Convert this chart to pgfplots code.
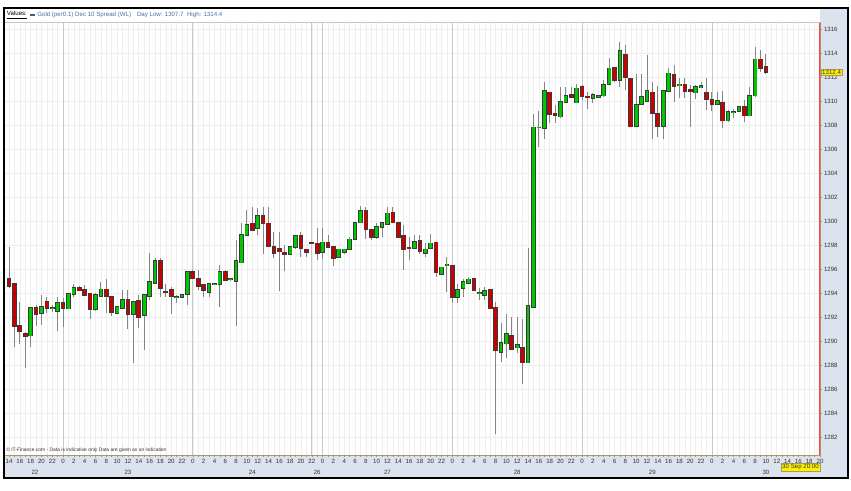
\documentclass[border=0pt]{standalone}
\usepackage{fontspec}
\setmainfont{Liberation Sans}
\usepackage{pgfplots}
\usepackage{pgfplotstable}
\pgfplotsset{compat=1.18}

\definecolor{stripblue}{HTML}{DCE3EE}
\definecolor{gridgray}{HTML}{EEEEEE}
\definecolor{daygray}{HTML}{C8C8C8}
\definecolor{axisbrown}{HTML}{A89868}
\definecolor{labelgray}{HTML}{333333}
\definecolor{candlegreen}{HTML}{00C800}
\definecolor{candlered}{HTML}{C80000}
\definecolor{bodyedge}{HTML}{3A3A3A}
\definecolor{wickgray}{HTML}{858585}
\definecolor{tagyellow}{HTML}{FFF200}
\definecolor{headblue}{HTML}{4A6FA5}

% hourly candles, x = hour slot (0 = 22 Sep 14:00)
\pgfplotstableread{
x o h l c
0 1295.2 1297.8 1294.4 1294.6
1 1294.8 1294.85 1289.5 1291.25
2 1291.25 1293.25 1289.75 1290.8
3 1290.6 1290.75 1287.8 1290.4
4 1290.45 1292.85 1289.5 1292.8
5 1292.75 1292.97 1291.25 1292.25
6 1292.36 1293.83 1291.33 1292.86
7 1293.25 1293.7 1292.36 1292.75
8 1292.7 1293.0 1292.45 1292.75
9 1292.53 1293.7 1290.86 1293.22
10 1293.17 1293.6 1291.14 1292.72
11 1292.72 1294.0 1292.7 1293.97
12 1293.92 1294.78 1293.64 1294.45
13 1294.45 1294.58 1294.17 1294.2
14 1294.3 1294.67 1293.75 1293.83
15 1293.97 1294.0 1291.83 1292.64
16 1292.64 1294.0 1292.53 1293.83
17 1293.75 1294.89 1293.75 1294.3
18 1294.3 1295.14 1292.36 1293.75
19 1293.7 1293.7 1292.08 1292.44
20 1292.36 1292.9 1292.3 1292.86
21 1292.72 1294.25 1292.7 1293.42
22 1293.42 1294.25 1290.97 1292.25
23 1292.25 1293.3 1288.17 1293.28
24 1293.33 1293.83 1291.1 1291.94
25 1292.17 1293.9 1289.25 1293.83
26 1293.75 1297.36 1293.4 1294.94
27 1294.81 1296.9 1294.8 1296.67
28 1296.67 1296.89 1293.69 1294.39
29 1294.1 1294.8 1293.7 1294.05
30 1294.25 1294.47 1292.25 1293.75
31 1293.64 1293.83 1293.14 1293.66
32 1293.64 1293.85 1293.6 1293.83
33 1293.92 1295.86 1293.0 1295.78
34 1295.78 1295.9 1295.2 1295.22
35 1295.22 1295.92 1294.25 1294.61
36 1294.67 1294.67 1293.7 1294.25
37 1294.11 1294.8 1293.7 1294.75
38 1294.78 1294.85 1294.7 1294.8
39 1294.75 1296.33 1292.8 1295.78
40 1295.78 1295.9 1295.1 1295.08
41 1295.14 1295.2 1295.05 1295.16
42 1295.0 1298.42 1291.28 1296.67
43 1296.53 1299.8 1296.5 1298.83
44 1298.83 1300.92 1298.8 1299.67
45 1299.81 1301.2 1299.2 1299.25
46 1299.39 1301.06 1298.83 1300.44
47 1300.44 1301.2 1297.22 1299.8
48 1299.8 1301.2 1297.9 1297.92
49 1297.86 1299.1 1296.89 1297.36
50 1297.67 1299.06 1294.2 1297.44
51 1297.39 1298.0 1295.86 1297.22
52 1297.22 1297.9 1297.17 1297.86
53 1297.86 1298.86 1297.64 1298.78
54 1298.75 1299.11 1296.97 1297.72
55 1297.64 1297.64 1296.97 1297.44
56 1298.2 1298.25 1298.15 1298.18
57 1298.14 1299.39 1296.75 1297.31
58 1297.44 1299.4 1296.83 1298.22
59 1298.22 1298.83 1297.86 1297.86
60 1297.86 1297.9 1296.28 1296.89
61 1296.97 1297.7 1296.9 1297.64
62 1297.44 1297.7 1297.3 1297.64
63 1297.64 1298.64 1297.58 1298.47
64 1298.47 1299.9 1298.4 1299.86
65 1299.86 1301.25 1299.86 1300.83
66 1300.83 1301.14 1298.47 1299.33
67 1299.25 1299.33 1298.4 1298.64
68 1298.69 1299.86 1298.47 1299.53
69 1299.53 1299.9 1298.7 1299.86
70 1299.75 1301.2 1299.75 1300.64
71 1300.72 1301.14 1299.8 1299.86
72 1299.86 1299.95 1298.6 1298.64
73 1298.75 1299.67 1295.97 1297.64
74 1297.8 1298.64 1296.75 1297.75
75 1297.78 1298.83 1297.72 1298.25
76 1298.33 1298.83 1297.25 1297.44
77 1297.36 1298.2 1296.97 1297.64
78 1297.72 1298.9 1297.7 1298.14
79 1298.22 1298.25 1295.36 1295.7
80 1295.58 1296.2 1295.5 1296.14
81 1296.33 1296.97 1294.11 1296.4
82 1296.28 1296.3 1293.2 1293.64
83 1293.64 1294.75 1293.2 1294.3
84 1294.44 1295.2 1293.64 1294.94
85 1294.8 1295.36 1294.75 1295.14
86 1295.22 1295.3 1294.2 1294.2
87 1293.97 1294.4 1293.4 1294.0
88 1293.83 1294.53 1293.4 1294.17
89 1294.25 1294.3 1292.7 1292.72
90 1292.8 1293.22 1282.25 1289.25
91 1289.11 1291.47 1288.28 1289.86
92 1289.8 1292.3 1288.6 1290.64
93 1290.47 1291.97 1289.3 1289.36
94 1289.45 1291.97 1288.97 1289.67
95 1289.47 1291.8 1286.42 1288.22
96 1288.2 1297.72 1288.2 1292.94
97 1292.8 1308.97 1292.8 1307.8
98 1307.78 1309.2 1306.14 1307.8
99 1307.72 1311.56 1306.83 1310.83
100 1310.72 1310.75 1308.14 1308.92
101 1308.97 1309.67 1308.14 1308.83
102 1308.69 1311.19 1308.6 1309.94
103 1309.94 1311.19 1309.9 1310.44
104 1310.5 1311.19 1310.33 1310.33
105 1309.86 1311.47 1309.86 1311.06
106 1311.17 1311.33 1310.08 1310.44
107 1310.39 1310.78 1309.33 1310.28
108 1310.22 1310.64 1309.8 1310.5
109 1310.33 1310.5 1310.3 1310.44
110 1310.44 1311.75 1310.36 1311.33
111 1311.44 1313.56 1311.44 1312.72
112 1312.75 1312.78 1311.61 1311.75
113 1311.75 1314.89 1311.19 1314.17
114 1313.83 1314.67 1310.92 1311.94
115 1311.83 1311.83 1307.86 1307.86
116 1307.94 1312.22 1307.86 1309.67
117 1309.75 1312.22 1309.67 1310.36
118 1310.0 1313.83 1309.94 1310.83
119 1310.72 1311.61 1306.83 1308.97
120 1308.97 1311.28 1307.03 1307.94
121 1307.94 1310.83 1306.83 1310.83
122 1310.83 1312.78 1310.78 1312.31
123 1312.22 1313.0 1309.94 1311.25
124 1311.28 1311.89 1310.22 1311.39
125 1311.39 1311.89 1310.22 1310.86
126 1310.92 1311.33 1307.86 1310.83
127 1310.72 1311.33 1310.22 1311.19
128 1311.17 1311.56 1311.11 1311.25
129 1310.67 1311.89 1309.25 1310.17
130 1310.08 1310.78 1309.17 1309.72
131 1309.75 1310.78 1309.67 1310.0
132 1309.86 1310.83 1307.72 1308.36
133 1308.36 1309.25 1308.22 1309.11
134 1309.06 1309.33 1308.61 1309.08
135 1309.17 1309.61 1309.11 1309.5
136 1309.5 1310.08 1308.22 1308.78
137 1308.78 1311.19 1308.78 1310.44
138 1310.44 1314.47 1310.36 1313.47
139 1313.47 1314.25 1312.44 1312.72
140 1312.86 1313.89 1312.22 1312.44
}\candles

\pgfplotsset{
    candle part/.style 2 args={draw=none, mark=none, forget plot,
        error bars/.cd, y dir=both, y explicit, error mark=none,
        error bar style={draw=#1, line width=#2}},
}

\begin{document}
\begin{tikzpicture}
\useasboundingbox (0,0) rectangle (638.25pt,367.5pt);
\fill[white] (0,0) rectangle (638.25pt,367.5pt);
\fill[stripblue] (3pt,9pt) rectangle (636pt,26.25pt);
\fill[stripblue] (615pt,9pt) rectangle (636pt,361.5pt);

\begin{axis}[
    at={(3.75pt,26.25pt)}, anchor=south west,
    scale only axis, width=611.25pt, height=324.75pt,
    xmin=-0.74, xmax=150, ymin=1280.5, ymax=1316.58,
    axis x line*=bottom, axis y line*=right,
    axis line style={draw=axisbrown, line width=0.6pt, -},
    xtick={0,2,...,150},
    xticklabels={14,16,18,20,22,
        0,2,4,6,8,10,12,14,16,18,20,22,
        0,2,4,6,8,10,12,14,16,18,20,22,
        0,2,4,6,8,10,12,14,16,18,20,22,
        0,2,4,6,8,10,12,14,16,18,20,22,
        0,2,4,6,8,10,12,14,16,18,20,22,
        0,2,4,6,8,10,12,14,16,18,20},
    minor x tick num=1,
    ytick={1282,1284,...,1316},
    minor y tick num=1,
    tick align=outside,
    major tick length=1.8pt, minor tick length=1.2pt,
    tick style={axisbrown, line width=0.4pt},
    xmajorgrids, xminorgrids, ymajorgrids,
    major grid style={gridgray, line width=0.4pt},
    minor grid style={gridgray, line width=0.4pt},
    tick label style={font=\fontsize{4.6}{5}\selectfont, text=labelgray, inner sep=1pt},
    yticklabel style={/pgf/number format/.cd, assume math mode=true, 1000 sep={}},
    clip mode=individual,
]
% day separators
\pgfplotsinvokeforeach{10,34,56,58,82,106,130}{
    \draw[daygray, line width=0.5pt] (axis cs:#1,1280.5) -- (axis cs:#1,1316.58);
}

% wicks
\addplot[candle part={wickgray}{0.7pt}]
    table[x=x, y expr={(\thisrow{h}+\thisrow{l})/2},
          y error expr={(\thisrow{h}-\thisrow{l})/2}] {\candles};
% body outline
\addplot[candle part={bodyedge}{3.5pt}]
    table[x=x, y expr={(\thisrow{o}+\thisrow{c})/2},
          y error expr={abs(\thisrow{c}-\thisrow{o})/2+0.06}] {\candles};
% rising bodies
\addplot[candle part={candlegreen}{2.1pt}]
    table[x=x, y expr={(\thisrow{o}+\thisrow{c})/2},
          y error expr={(\thisrow{c}>=\thisrow{o}) ? abs(\thisrow{c}-\thisrow{o})/2 : 0}] {\candles};
% falling bodies
\addplot[candle part={candlered}{2.1pt}]
    table[x=x, y expr={(\thisrow{o}+\thisrow{c})/2},
          y error expr={(\thisrow{c}<\thisrow{o}) ? abs(\thisrow{c}-\thisrow{o})/2 : 0}] {\candles};

% now line
\draw[red!75, line width=0.6pt] (axis cs:149.85,1280.5) -- (axis cs:149.85,1316.58);

% day labels
\node[font=\fontsize{4.6}{5}\selectfont, text=labelgray, inner sep=0pt] at (axis cs:4.8,1280.5) [yshift=-13.2pt] {22};
\node[font=\fontsize{4.6}{5}\selectfont, text=labelgray, inner sep=0pt] at (axis cs:22,1280.5) [yshift=-13.2pt] {23};
\node[font=\fontsize{4.6}{5}\selectfont, text=labelgray, inner sep=0pt] at (axis cs:45,1280.5) [yshift=-13.2pt] {24};
\node[font=\fontsize{4.6}{5}\selectfont, text=labelgray, inner sep=0pt] at (axis cs:57,1280.5) [yshift=-13.2pt] {26};
\node[font=\fontsize{4.6}{5}\selectfont, text=labelgray, inner sep=0pt] at (axis cs:70,1280.5) [yshift=-13.2pt] {27};
\node[font=\fontsize{4.6}{5}\selectfont, text=labelgray, inner sep=0pt] at (axis cs:94,1280.5) [yshift=-13.2pt] {28};
\node[font=\fontsize{4.6}{5}\selectfont, text=labelgray, inner sep=0pt] at (axis cs:119,1280.5) [yshift=-13.2pt] {29};
\node[font=\fontsize{4.6}{5}\selectfont, text=labelgray, inner sep=0pt] at (axis cs:140,1280.5) [yshift=-13.2pt] {30};

\node[anchor=south west, font=\fontsize{3.7}{4}\selectfont, text=labelgray, inner sep=0pt]
    at (axis cs:-0.55,1280.5) [yshift=1.6pt]
    {© IT-Finance.com - Data is indicative only Data are given as an indication};

\node[anchor=west, fill=tagyellow, draw=axisbrown, line width=0.3pt, inner sep=0.7pt,
      font=\fontsize{4.6}{5}\selectfont, text=labelgray]
    at (axis cs:150,1312.4) [xshift=0.8pt] {1312.4};
\node[anchor=north east, fill=tagyellow, draw=axisbrown, line width=0.3pt, inner sep=0.8pt,
      font=\fontsize{4.6}{5}\selectfont, text=labelgray]
    at (axis cs:150,1280.5) [yshift=-6.3pt] {30 Sep 20:00};
\end{axis}

% header
\draw[daygray, line width=0.5pt] (3pt,351pt) -- (615pt,351pt);
\node[anchor=west, inner sep=0pt, font=\fontsize{4.6}{5}\selectfont]
    at (5pt,356.2pt) {\underline{Values:}};
\draw[headblue!80!black, line width=0.5pt] (22.3pt,356.7pt) -- (26.3pt,356.7pt);
\draw[headblue!80!black, line width=0.5pt] (22.3pt,355.7pt) -- (26.3pt,355.7pt);
\node[anchor=west, inner sep=0pt, font=\fontsize{4.6}{5}\selectfont, text=headblue]
    at (27.8pt,356.2pt) {Gold (per0.1) Dec 10 Spread (WL)\hspace{4.5pt}Day Low: 1307.7\ \ High: 1314.4};

\draw[black, line width=0.9pt] (3pt,9pt) rectangle (636pt,361.5pt);
\end{tikzpicture}
\end{document}
